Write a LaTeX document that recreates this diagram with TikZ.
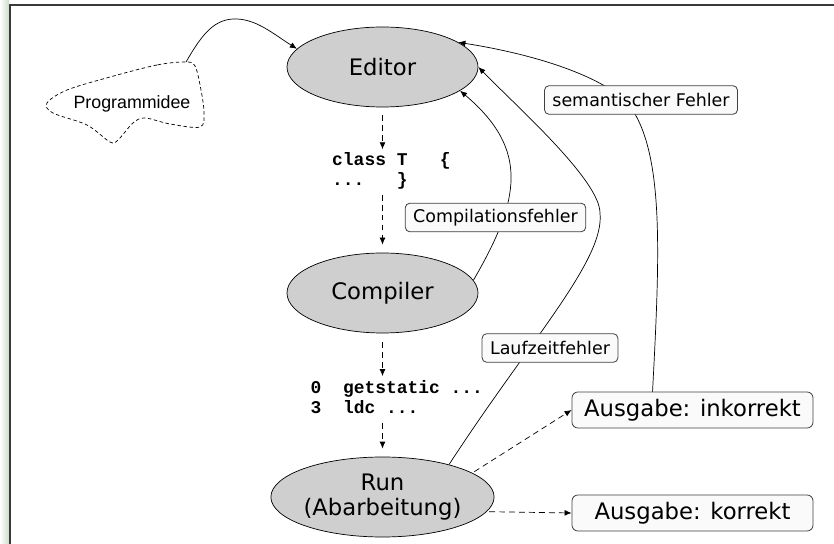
\documentclass[tikz,border=0pt]{standalone}
\usepackage{fontspec}
\setmainfont{DejaVu Sans}
\newfontfamily\ideafont{Liberation Sans}
\newfontfamily\codefont{Liberation Mono}
\usetikzlibrary{shapes.geometric,arrows.meta,calc}
\definecolor{ellgrey}{HTML}{CFCFCF}
\definecolor{boxline}{HTML}{404040}
\definecolor{boxfill}{HTML}{FAFAFA}
\definecolor{framecol}{HTML}{3A3A3A}
\definecolor{stripgreen}{RGB}{205,220,200}
\begin{document}
\begin{tikzpicture}[x=0.03cm,y=-0.03cm,
  proc/.style={ellipse, draw=black, fill=ellgrey, minimum width=5.73cm, minimum height=2.4cm,
    inner sep=0pt, font=\fontsize{19.4}{21.5}\selectfont, align=center, line width=0.6pt},
  errlabel/.style={draw=boxline, fill=boxfill, rounded corners=4pt, font=\fontsize{14.9}{18}\selectfont,
    inner xsep=6.8pt, inner ysep=0pt, minimum height=0.86cm, line width=0.7pt},
  outbox/.style={draw=boxline, fill=boxfill, rounded corners=5pt, font=\fontsize{19.4}{24}\selectfont,
    minimum width=7.23cm, minimum height=1.08cm, inner sep=0pt, line width=0.7pt},
  codeblock/.style={font=\codefont\bfseries\fontsize{15.3}{17.2}\selectfont, align=left, inner sep=0pt},
  flow/.style={-{Latex[length=6pt,width=5pt]}, dash pattern=on 5pt off 3.5pt, line width=0.6pt},
  back/.style={-{Latex[length=6pt,width=5pt]}, line width=0.6pt},
]
\useasboundingbox (0,0) rectangle (834,544);
% slide decoration and frame
\shade[left color=white, right color=stripgreen] (0,0) rectangle (9,544);
\draw[framecol, line width=1.2pt] (10,544) -- (10,5) -- (834,5);

% idea cloud
\draw[dash pattern=on 3pt off 2.2pt, line width=0.6pt] plot[smooth cycle, tension=0.55] coordinates
  {(185,62) (157,65) (110,77) (67,90) (47,103) (53,113) (87,125) (110,142) (118,140) (133,123)
   (145,118) (170,124) (200,127) (204,113) (201,90) (195,66)};
\coordinate (idea) at (186,62);
\node[font=\ideafont\fontsize{15.2}{18}\selectfont] (ideatext) at (132,104) {Programmidee};

% processes
\node[proc] (editor) at (382.5,67) {Editor};
\node[proc] (compiler) at (382.5,293) {Compiler};
\node[proc] (run) at (382.5,497) {Run\\(Abarbeitung)};

% code
\node[codeblock, anchor=west] (code1) at (332,171) {class T\phantom{xxx}\{\\...\phantom{xxx}\}};
\node[codeblock, anchor=west] (code2) at (310.5,397) {0\phantom{xx}getstatic ...\\3\phantom{xx}ldc ...};

% outputs
\node[outbox] (ink) at (692.5,410) {Ausgabe: inkorrekt};
\node[outbox] (kor) at (692.5,513) {Ausgabe: korrekt};

% main flow
\draw[flow, shorten <=6.8pt, shorten >=2.6pt] (editor.south) -- (editor.south |- code1.north);
\draw[flow, shorten <=4.3pt, shorten >=6.8pt] (editor.south |- code1.south) -- (compiler.north);
\draw[flow, shorten <=7.7pt, shorten >=3.4pt] (compiler.south) -- (compiler.south |- code2.north);
\draw[flow, shorten <=7.7pt, shorten >=6.8pt] (compiler.south |- code2.south) -- (run.north);
\draw[flow, shorten <=2pt] (run.15) -- (ink.west);
\draw[flow, shorten <=2pt] (run.-8) -- (kor.west);

% idea to editor
\draw[back] (idea) .. controls (200,38) and (212,20) .. (233,19)
  .. controls (255,18) and (272,33) .. (editor.168);

% error feedback
\draw[back] (compiler.8) .. controls (520,200) and (530,150) .. (editor.-17);
\draw[back] (run.26) .. controls (530,340) and (605,260) .. (600,213)
  .. controls (600,180) and (515,105) .. (editor.east);
\draw[back] ([xshift=-34.1pt]ink.north) .. controls (660,250) and (665,145) .. (625,100)
  .. controls (590,70) and (520,52) .. (editor.18);

% labels
\node[errlabel] (semlab) at (641,100) {semantischer Fehler};
\node[errlabel] (complab) at (495.5,217.5) {Compilationsfehler};
\node[errlabel] (lauflab) at (550,348) {Laufzeitfehler};
\end{tikzpicture}
\end{document}
